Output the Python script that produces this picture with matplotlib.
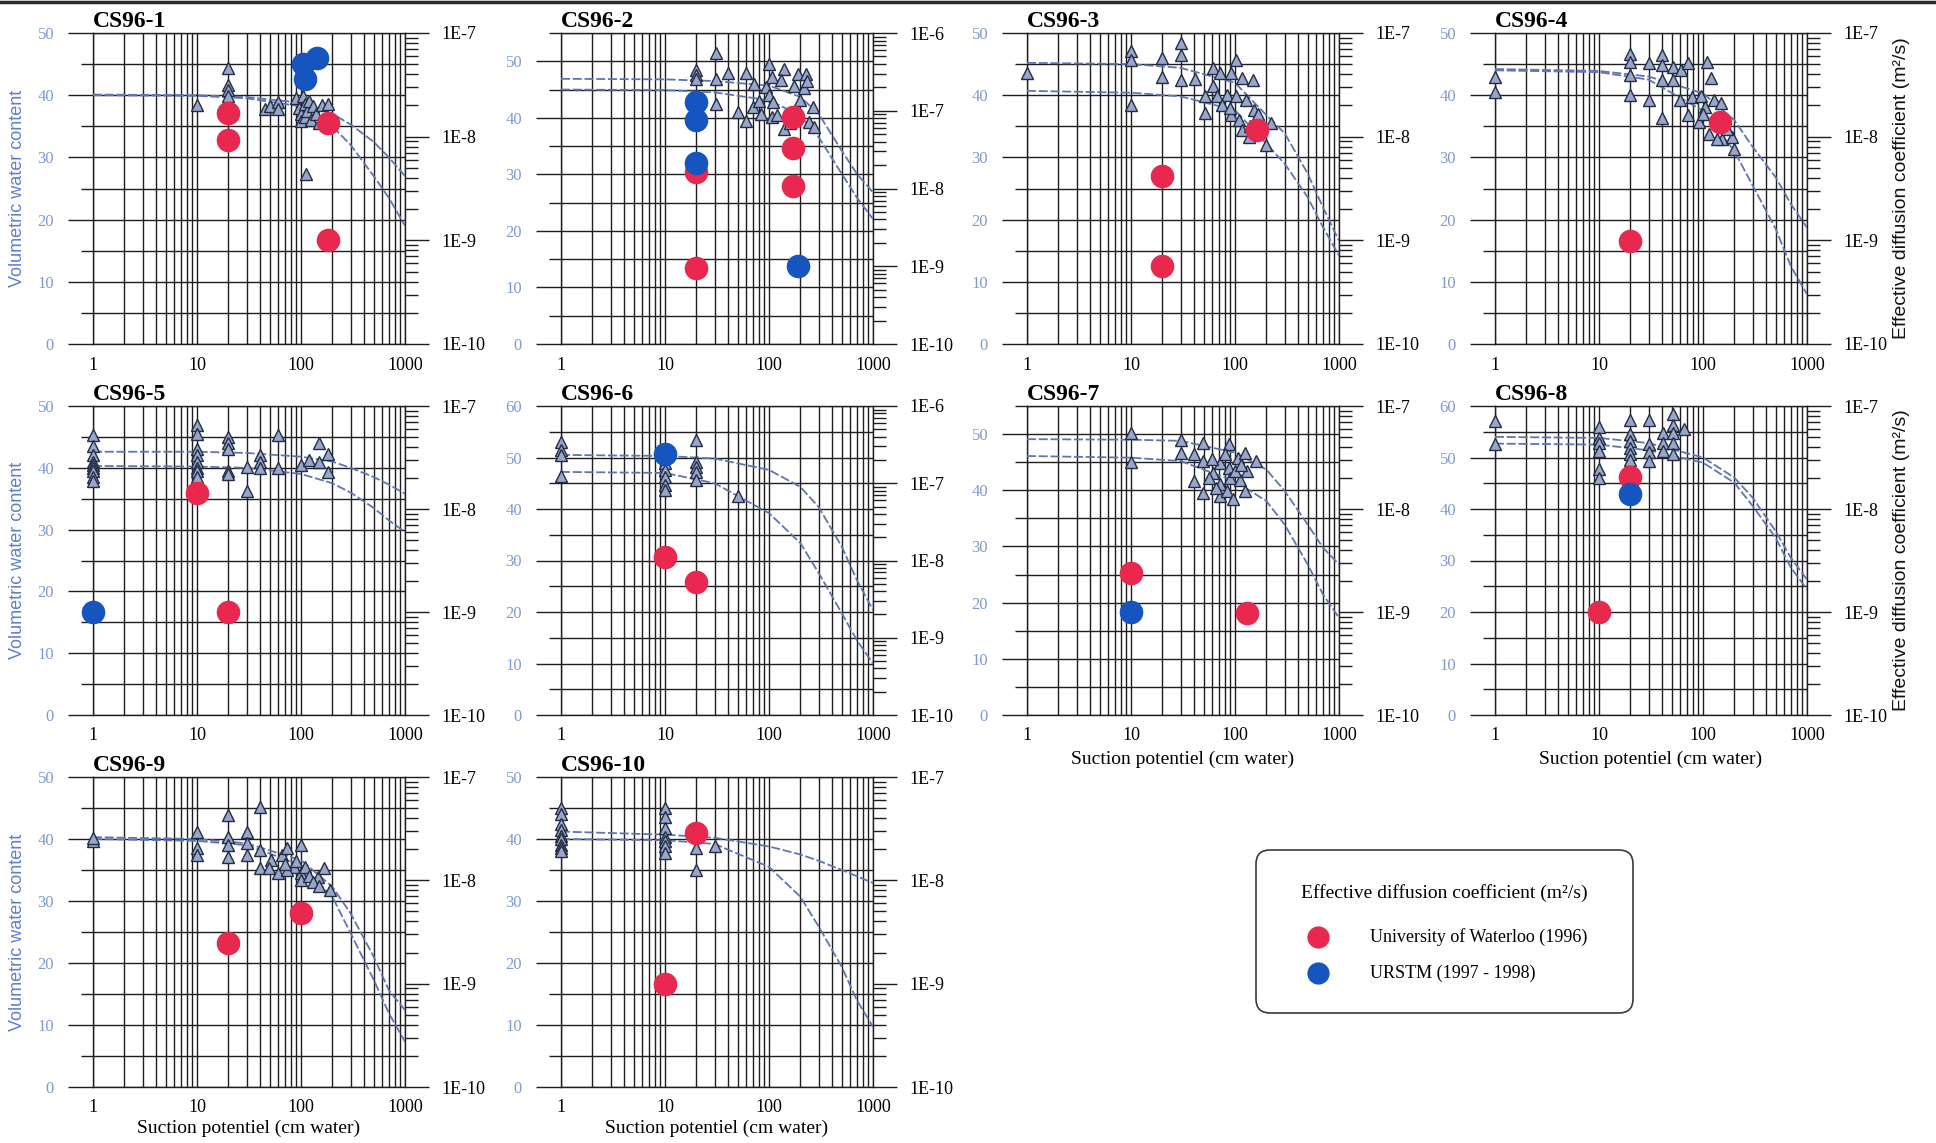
import numpy as np
import matplotlib.pyplot as plt
from matplotlib.ticker import (MultipleLocator, LogLocator, FixedLocator,
                               FuncFormatter, NullFormatter)
from matplotlib.patches import FancyBboxPatch
from matplotlib.lines import Line2D

plt.rcParams['font.family'] = ['Liberation Serif', 'DejaVu Serif']

# suction (cm water) where the two retention curves are sampled
CURVE_X = [1, 10, 30, 100, 200, 300, 500, 700, 1000]

# ---- CS96-1 ----
P1_TRI_X = [10, 20, 20, 20, 20, 45, 50, 60, 60, 90, 95, 100, 100, 105, 110, 110, 115,
            120, 125, 130, 140, 150, 160, 180, 112]
P1_TRI_Y = [38.5, 44.3, 41.7, 40.9, 39.8, 37.8, 38.3, 38.9, 37.8, 39.5, 38.0, 37.0, 35.8,
            39.8, 38.6, 36.5, 37.5, 39.0, 36.0, 38.2, 37.0, 35.5, 38.5, 38.6, 27.4]
P1_UPPER = [40.1, 40.0, 39.7, 38.8, 37.0, 35.3, 32.5, 30.0, 27.0]
P1_LOWER = [40.0, 39.9, 39.5, 38.2, 35.0, 32.0, 27.0, 23.5, 19.0]
P1_UW_X = [20, 20, 180, 180]
P1_UW_DE = [1.7e-8, 9.2e-9, 1.35e-8, 1.0e-9]
P1_UR_X = [105, 144, 110]
P1_UR_DE = [5.0e-8, 5.75e-8, 3.6e-8]

# ---- CS96-2 ----
P2_TRI_X = [20, 20, 20, 31, 31, 31, 40, 60, 72, 50, 60, 70, 84, 100, 108, 140, 130, 94,
            100, 110, 108, 140, 190, 225, 175, 215, 200, 263, 245, 270, 80, 120, 160, 230]
P2_TRI_Y = [48.4, 47.6, 46.9, 51.4, 46.9, 42.5, 47.9, 47.9, 46.0, 41.0, 39.5, 41.9, 40.7,
            49.6, 47.2, 48.7, 46.6, 45.4, 44.0, 42.8, 40.1, 38.1, 47.8, 47.8, 45.7, 45.2,
            43.1, 41.9, 39.2, 38.4, 43.0, 40.5, 39.0, 46.5]
P2_UPPER = [46.9, 46.8, 46.5, 45.7, 43.7, 40.7, 34.2, 30.1, 26.8]
P2_LOWER = [45.0, 44.9, 44.5, 43.1, 40.4, 36.6, 30.1, 25.9, 22.1]
P2_UW_X = [20, 20, 170, 170, 170]
P2_UW_DE = [1.63e-8, 9.6e-10, 8.2e-8, 3.3e-8, 1.09e-8]
P2_UR_X = [20, 20, 20, 190]
P2_UR_DE = [1.3e-7, 7.5e-8, 2.1e-8, 1.0e-9]

# ---- CS96-3 ----
P3_TRI_X = [1, 10, 10, 10, 20, 20, 30, 30, 30, 41, 61, 71, 102, 92, 117, 148, 61, 51, 51,
            67, 83, 102, 128, 152, 92, 110, 117, 135, 200, 220, 75, 90, 140, 165]
P3_TRI_Y = [43.6, 47.1, 45.6, 38.4, 46.0, 43.0, 48.4, 46.5, 42.5, 42.6, 44.4, 43.6, 45.7,
            43.6, 42.7, 42.4, 41.4, 39.8, 37.1, 39.8, 40.1, 39.8, 39.3, 37.6, 36.8, 36.0,
            34.4, 33.3, 32.0, 35.5, 38.5, 38.0, 35.0, 37.0]
P3_UPPER = [45.2, 45.0, 44.4, 42.0, 36.8, 33.9, 27.4, 22.0, 16.6]
P3_LOWER = [40.7, 40.4, 39.8, 37.6, 32.2, 29.0, 23.6, 18.8, 14.2]
P3_UW_X = [20, 20, 163]
P3_UW_DE = [4.2e-9, 5.6e-10, 1.17e-8]
P3_UR_X = []
P3_UR_DE = []

# ---- CS96-4 ----
P4_TRI_X = [1, 1, 20, 20, 20, 20, 30, 30, 40, 40, 40, 40, 51, 61, 72, 51, 110, 120, 60, 72,
            92, 79, 95, 128, 148, 105, 115, 152, 190, 200, 135, 170, 100, 140]
P4_TRI_Y = [43.0, 40.5, 46.7, 45.4, 43.2, 40.0, 45.1, 39.2, 46.5, 44.9, 42.4, 36.3, 44.6,
            44.0, 45.1, 42.4, 45.4, 42.7, 39.2, 36.8, 35.7, 39.7, 39.9, 39.2, 38.7, 38.1,
            33.8, 33.0, 33.3, 31.4, 33.0, 34.5, 37.0, 36.0]
P4_UPPER = [44.2, 43.9, 43.0, 40.3, 36.0, 31.7, 26.8, 22.5, 18.7]
P4_LOWER = [44.0, 43.7, 42.5, 37.5, 31.0, 25.5, 18.5, 12.5, 8.0]
P4_UW_X = [20, 145]
P4_UW_DE = [9.8e-10, 1.39e-8]
P4_UR_X = []
P4_UR_DE = []

# ---- CS96-5 ----
P5_TRI_X = [1] * 9 + [10] * 8 + [20] * 5 + [30, 30, 40, 40, 40, 60, 60, 100, 120, 150, 150,
                                             180, 180]
P5_TRI_Y = [45.3, 43.5, 42.0, 41.0, 40.5, 40.0, 39.5, 38.5, 37.8,
            47.0, 45.5, 43.0, 42.0, 41.0, 40.0, 39.5, 38.5,
            45.0, 44.0, 43.0, 39.5, 39.0,
            40.2, 36.2, 42.0, 41.0, 40.0, 45.3, 40.0, 40.5, 41.2, 44.0, 40.9, 42.2, 39.4]
P5_UPPER = [42.6, 42.6, 42.4, 41.8, 41.0, 40.0, 38.5, 37.3, 35.8]
P5_LOWER = [40.3, 40.2, 40.0, 39.0, 37.5, 36.0, 33.5, 31.5, 29.6]
P5_UW_X = [10, 20]
P5_UW_DE = [1.43e-8, 9.9e-10]
P5_UR_X = [1]
P5_UR_DE = [1.0e-9]

# ---- CS96-6 ----
P6_TRI_X = [1, 1, 1, 1, 10, 10, 10, 10, 10, 20, 20, 20, 20, 20, 50]
P6_TRI_Y = [53.0, 51.5, 50.5, 46.4, 49.0, 47.6, 46.3, 44.7, 43.7, 53.4, 49.2, 48.2, 47.2,
            45.6, 42.5]
P6_UPPER = [50.5, 50.3, 49.8, 47.6, 44.3, 40.4, 32.7, 26.2, 20.4]
P6_LOWER = [47.2, 47.0, 45.0, 39.2, 33.4, 27.6, 19.8, 14.5, 10.0]
P6_UW_X = [10, 20]
P6_UW_DE = [1.11e-8, 5.3e-9]
P6_UR_X = [10]
P6_UR_DE = [2.4e-7]

# ---- CS96-7 ----
P7_TRI_X = [10, 10, 30, 30, 40, 49, 49, 61, 40, 49, 56, 71, 71, 71, 88, 88, 90, 106, 126,
            131, 112, 124, 159, 83, 66, 60, 100, 80, 115, 95]
P7_TRI_Y = [50.2, 45.1, 49.0, 46.7, 46.4, 48.4, 45.2, 43.1, 41.6, 39.6, 42.2, 44.9, 41.1,
            39.0, 48.2, 44.0, 42.2, 45.8, 46.7, 43.4, 41.9, 39.9, 45.2, 39.9, 40.4, 45.5,
            43.5, 46.5, 44.5, 38.5]
P7_UPPER = [49.1, 49.0, 48.8, 46.7, 43.7, 39.9, 33.9, 29.8, 26.8]
P7_LOWER = [46.1, 45.8, 45.2, 41.6, 38.1, 33.9, 26.8, 21.5, 17.3]
P7_UW_X = [10, 130]
P7_UW_DE = [2.4e-9, 9.8e-10]
P7_UR_X = [10]
P7_UR_DE = [1.0e-9]

# ---- CS96-8 ----
P8_TRI_X = [1, 1] + [10] * 6 + [20] * 6 + [30] * 4 + [41] * 3 + [52] * 5 + [65]
P8_TRI_Y = [57.1, 52.6,
            55.9, 53.8, 52.9, 51.3, 47.7, 46.0,
            57.2, 54.5, 53.2, 51.9, 50.6, 49.6,
            57.3, 52.6, 51.1, 49.3,
            54.8, 52.9, 51.3,
            58.4, 56.4, 54.8, 52.9, 50.6,
            55.5]
P8_UPPER = [54.0, 53.8, 52.8, 50.0, 46.1, 42.2, 35.7, 30.5, 26.3]
P8_LOWER = [52.7, 52.5, 51.4, 49.0, 45.1, 40.6, 34.4, 28.6, 24.4]
P8_UW_X = [20, 10]
P8_UW_DE = [2.04e-8, 9.9e-10]
P8_UR_X = [20]
P8_UR_DE = [1.4e-8]

# ---- CS96-9 ----
P9_TRI_X = [1, 1, 10, 10, 10, 20, 20, 20, 20, 30, 30, 30, 40, 40, 40, 52, 65, 74, 100, 60,
            85, 100, 110, 145, 166, 190, 100, 74, 49, 120, 130, 90, 70, 150]
P9_TRI_Y = [39.6, 40.2, 41.2, 38.5, 37.4, 43.9, 40.4, 39.0, 37.1, 41.2, 39.3, 37.4, 45.2,
            38.2, 35.3, 36.6, 37.4, 38.5, 39.0, 34.5, 35.5, 34.5, 35.5, 33.9, 35.3, 31.8,
            33.4, 35.0, 35.3, 34.0, 33.0, 36.5, 36.0, 32.5]
P9_UPPER = [40.3, 40.0, 39.3, 36.6, 32.3, 28.0, 21.0, 15.6, 12.4]
P9_LOWER = [40.0, 39.7, 39.0, 35.8, 30.7, 24.8, 17.3, 11.9, 7.3]
P9_UW_X = [20, 100]
P9_UW_DE = [2.5e-9, 4.8e-9]
P9_UR_X = []
P9_UR_DE = []

# ---- CS96-10 ----
P10_TRI_X = [1] * 9 + [10] * 7 + [20, 20, 30]
P10_TRI_Y = [45.0, 44.0, 42.5, 41.5, 40.5, 40.0, 39.0, 38.5, 38.0,
             45.0, 43.5, 41.7, 40.4, 39.6, 38.8, 37.7,
             38.5, 35.0, 38.9]
P10_UPPER = [41.2, 40.7, 40.2, 38.8, 37.5, 36.5, 35.0, 34.0, 32.9]
P10_LOWER = [40.0, 39.8, 39.2, 35.5, 30.7, 25.9, 19.4, 14.0, 9.7]
P10_UW_X = [20, 10]
P10_UW_DE = [2.85e-8, 1.0e-9]
P10_UR_X = []
P10_UR_DE = []

TITLES = ['CS96-1', 'CS96-2', 'CS96-3', 'CS96-4', 'CS96-5',
          'CS96-6', 'CS96-7', 'CS96-8', 'CS96-9', 'CS96-10']
WC_MAX = [50, 55, 50, 50, 50, 60, 55, 60, 50, 50]    # left axis top
DE_TOP_EXP = [-7, -6, -7, -7, -7, -6, -7, -7, -7, -7]  # right axis top, 10**exp

RED = '#e8284e'
BLUE = '#1654c0'
GRID = '#1e1e1e'
TICK_BLUE = '#7e9ad0'
CURVE = '#6074ae'
TRI_FILL = '#97a6c9'
TRI_EDGE = '#232c45'

panels = []
for i in range(10):
    n = i + 1
    g = globals()
    panels.append(dict(
        title=TITLES[i], wc_max=WC_MAX[i], de_top=DE_TOP_EXP[i],
        tri_x=g[f'P{n}_TRI_X'], tri_y=g[f'P{n}_TRI_Y'],
        upper=g[f'P{n}_UPPER'], lower=g[f'P{n}_LOWER'],
        uw_x=g[f'P{n}_UW_X'], uw_de=g[f'P{n}_UW_DE'],
        ur_x=g[f'P{n}_UR_X'], ur_de=g[f'P{n}_UR_DE'],
    ))

W, H = 1936, 1143
COL_X = [93, 561, 1027, 1495]
ROWS = [(33, 344), (406, 715), (777, 1087)]
PANEL_W = 312
SLOTS = [(0, 0), (0, 1), (0, 2), (0, 3), (1, 0), (1, 1), (1, 2), (1, 3), (2, 0), (2, 1)]

fig = plt.figure(figsize=(W / 100, H / 100), dpi=100)
fig.patch.set_facecolor('white')


def de_label(v, _):
    return f"1E{int(round(np.log10(v)))}"


def draw_panel(row, col, p):
    top, bottom = ROWS[row]
    ax = fig.add_axes([COL_X[col] / W, 1 - bottom / H, PANEL_W / W, (bottom - top) / H])
    ax.set_xscale('log')
    ax.set_xlim(1, 1000)
    ax.set_ylim(0, p['wc_max'])
    ax.xaxis.set_major_locator(FixedLocator([1, 10, 100, 1000]))
    ax.xaxis.set_minor_locator(FixedLocator([k * 10.0 ** e for e in range(3) for k in range(2, 10)]))
    ax.xaxis.set_major_formatter(FuncFormatter(lambda v, _: f"{v:g}"))
    ax.xaxis.set_minor_formatter(NullFormatter())
    ax.yaxis.set_major_locator(MultipleLocator(10))
    ax.yaxis.set_minor_locator(MultipleLocator(5))
    ax.grid(True, which='both', color=GRID, lw=1.0)
    ax.set_axisbelow(True)
    ax.tick_params(axis='x', which='both', length=0, pad=9, labelsize=13)
    ax.tick_params(axis='y', which='major', direction='out', length=18, width=1.0,
                   color=GRID, labelsize=12, labelcolor=TICK_BLUE, pad=10)
    ax.tick_params(axis='y', which='minor', direction='out', length=9, width=1.0, color=GRID)
    for s in ax.spines.values():
        s.set_color(GRID)
        s.set_linewidth(1.0)

    # water retention: two fitted curves and the measured points
    ax.plot(CURVE_X, p['upper'], color=CURVE, lw=1.3, ls=(0, (5, 1.5)), zorder=3)
    ax.plot(CURVE_X, p['lower'], color=CURVE, lw=1.3, ls=(0, (5, 1.5)), zorder=3)
    ax.plot(p['tri_x'], p['tri_y'], ls='none', marker='^', ms=8.5, mfc=TRI_FILL,
            mec=TRI_EDGE, mew=1.0, clip_on=False, zorder=4)

    ax.set_title(p['title'], loc='left', pad=4, fontsize=17, fontweight='bold')

    # effective diffusion coefficient on the log right axis
    exps = range(-10, p['de_top'] + 1)
    ax2 = ax.twinx()
    ax2.set_yscale('log')
    ax2.set_ylim(1e-10, 10.0 ** p['de_top'])
    ax2.yaxis.set_major_locator(FixedLocator([10.0 ** e for e in exps]))
    ax2.yaxis.set_minor_locator(FixedLocator([k * 10.0 ** e for e in exps[:-1]
                                              for k in range(2, 10)]))
    ax2.yaxis.set_major_formatter(FuncFormatter(de_label))
    ax2.yaxis.set_minor_formatter(NullFormatter())
    ax2.tick_params(axis='y', which='major', direction='out', length=17, width=1.0,
                    color=GRID, labelsize=13, pad=9)
    ax2.tick_params(axis='y', which='minor', direction='out', length=9, width=1.0, color=GRID)
    for s in ax2.spines.values():
        s.set_visible(False)
    ax2.plot(p['uw_x'], p['uw_de'], ls='none', marker='o', ms=17, mfc=RED, mec='none',
             clip_on=False, zorder=5)
    ax2.plot(p['ur_x'], p['ur_de'], ls='none', marker='o', ms=17, mfc=BLUE, mec='none',
             clip_on=False, zorder=6)
    return ax


for (row, col), p in zip(SLOTS, panels):
    draw_panel(row, col, p)

# axis titles
for row in range(3):
    top, bottom = ROWS[row]
    fig.text(18 / W, 1 - (top + bottom) / 2 / H, 'Volumetric water content', rotation=90,
             ha='center', va='center', fontsize=13, color='#5f80c8',
             family=['Liberation Sans', 'DejaVu Sans'])
for row in range(2):
    top, bottom = ROWS[row]
    fig.text(1902 / W, 1 - (top + bottom) / 2 / H, 'Effective diffusion coefficient (m²/s)',
             rotation=90, ha='center', va='center', fontsize=14, color='#111111',
             family=['Liberation Sans', 'DejaVu Sans'])
for row, col, y in [(1, 2, 759), (1, 3, 759), (2, 0, 1128), (2, 1, 1128)]:
    fig.text((COL_X[col] + PANEL_W / 2) / W, 1 - y / H, 'Suction potentiel (cm water)',
             ha='center', va='center', fontsize=14)

# legend box
lg = fig.add_axes([1256 / W, 1 - 1013 / H, 377 / W, 163 / H])
lg.set_xlim(0, 377)
lg.set_ylim(0, 163)
lg.axis('off')
lg.add_patch(FancyBboxPatch((0, 0), 377, 163, boxstyle='round,pad=0,rounding_size=14',
                            fc='white', ec='#3a3a3a', lw=1.2, clip_on=False))
lg.text(188, 120, 'Effective diffusion coefficient (m²/s)', ha='center', va='center',
        fontsize=14)
lg.plot([62], [76], 'o', ms=16, mfc=RED, mec='none')
lg.text(114, 76, 'University of Waterloo (1996)', ha='left', va='center', fontsize=13)
lg.plot([62], [40], 'o', ms=16, mfc=BLUE, mec='none')
lg.text(114, 40, 'URSTM (1997 - 1998)', ha='left', va='center', fontsize=13)

# dark rule along the top edge of the sheet
fig.add_artist(Line2D([0, 1], [1 - 1.5 / H] * 2, color='#2a2a2a', lw=2.5,
                      transform=fig.transFigure))

fig.savefig('out.png', dpi=100)
